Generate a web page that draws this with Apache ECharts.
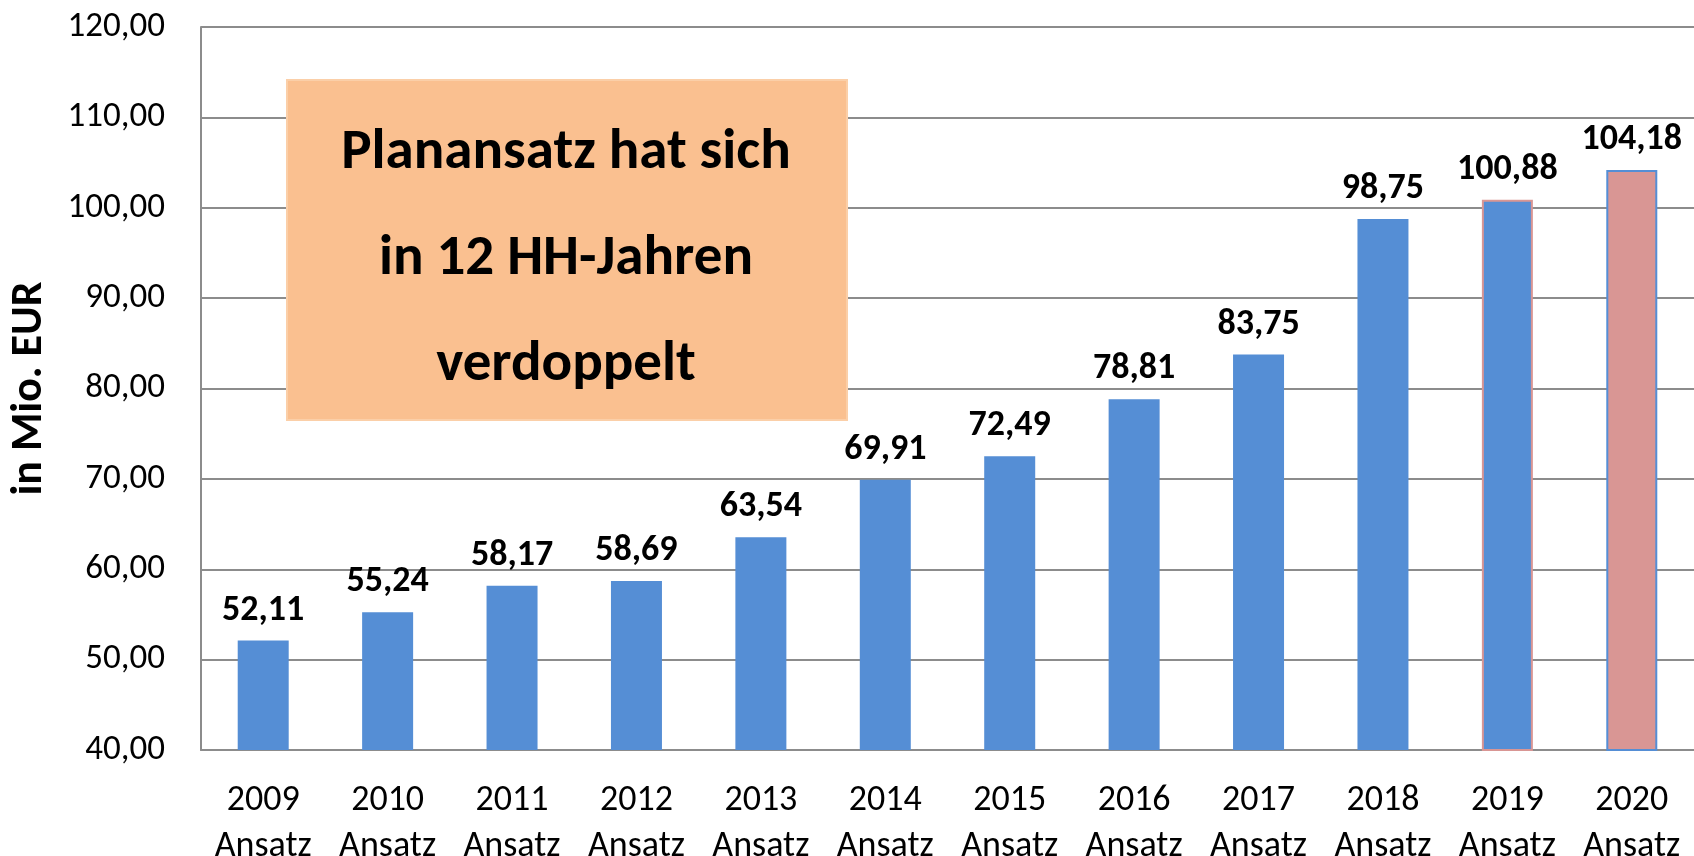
<!DOCTYPE html>
<html>
<head>
<meta charset="utf-8">
<script src="https://cdn.jsdelivr.net/npm/echarts@6/dist/echarts.min.js"></script>
<style>
  html, body { margin: 0; padding: 0; background: #fff; }
  #main { width: 1694px; height: 856px; }
</style>
</head>
<body>
<div id="main"></div>
<script>
// Planansatz je Haushaltsjahr (Mio. EUR)
const years = ["2009", "2010", "2011", "2012", "2013", "2014", "2015", "2016", "2017", "2018", "2019", "2020"];
const values = [52.11, 55.24, 58.17, 58.69, 63.54, 69.91, 72.49, 78.81, 83.75, 98.75, 100.88, 104.18];
const yMin = 40;
const yMax = 120;
const yStep = 10;

const blue = "#558ED5";
const pink = "#D99694";
const font = "Carlito, Calibri, Lato, sans-serif";

var myChart = echarts.init(document.getElementById("main"));

var barData = values.map(function (v, i) {
  var item = { value: v };
  if (years[i] === "2019") {
    item.itemStyle = { color: blue, borderColor: pink, borderWidth: 2 };
  } else if (years[i] === "2020") {
    item.itemStyle = { color: pink, borderColor: blue, borderWidth: 2 };
  }
  return item;
});

var option = {
  animation: false,
  textStyle: { fontFamily: font },
  grid: {
    left: 201,
    right: 0,
    top: 27,
    bottom: 106,
    outerBoundsMode: "none",
    containLabel: false,
  },
  xAxis: {
    type: "category",
    data: years,
    axisTick: { show: false },
    axisLine: { show: true, lineStyle: { color: "#8c8c8c", width: 2 } },
    axisLabel: {
      color: "#000",
      fontSize: 36,
      fontFamily: font,
      lineHeight: 46,
      margin: 28,
      interval: 0,
      formatter: function (v) {
        return v + "\nAnsatz";
      },
    },
  },
  yAxis: {
    type: "value",
    min: yMin,
    max: yMax,
    interval: yStep,
    name: "in Mio. EUR",
    nameLocation: "middle",
    nameGap: 149,
    nameRotate: 90,
    nameTextStyle: {
      color: "#000",
      fontSize: 44,
      fontWeight: "bold",
      fontFamily: font,
    },
    axisLine: { show: true, lineStyle: { color: "#8c8c8c", width: 2 } },
    axisTick: { show: false },
    axisLabel: {
      color: "#000",
      fontSize: 35,
      fontFamily: font,
      margin: 36,
      formatter: function (v) {
        return v.toFixed(2).replace(".", ",");
      },
    },
    splitLine: { lineStyle: { color: "#8c8c8c", width: 2 } },
  },
  series: [
    {
      type: "bar",
      data: barData,
      barWidth: 51,
      itemStyle: { color: blue },
      label: {
        show: true,
        position: "top",
        distance: 12,
        color: "#000",
        fontSize: 36,
        fontWeight: "bold",
        fontFamily: font,
        formatter: function (p) {
          return p.value.toFixed(2).replace(".", ",");
        },
      },
    },
  ],
  graphic: [
    {
      type: "rect",
      left: 286,
      top: 79,
      shape: { width: 560, height: 340 },
      style: { fill: "#FAC090", stroke: "#FBCFA8", lineWidth: 2 },
      z: 10,
    },
    {
      type: "text",
      x: 566,
      y: 260,
      style: {
        text: "Planansatz hat sich\nin 12 HH-Jahren\nverdoppelt",
        fill: "#000",
        font: "bold 57px " + font,
        lineHeight: 106,
        align: "center",
        verticalAlign: "middle",
      },
      z: 11,
    },
  ],
};

myChart.setOption(option);
</script>
</body>
</html>
